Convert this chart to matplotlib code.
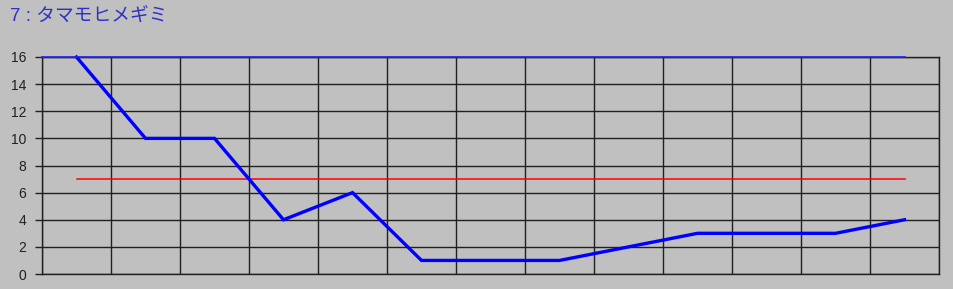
import matplotlib
matplotlib.use("Agg")
import matplotlib.pyplot as plt
import numpy as np

plt.rcParams['font.family'] = ['Liberation Sans', 'Noto Sans CJK JP', 'DejaVu Sans']

# race positions
races = list(range(13))
ranks = [16, 10, 10, 4, 6, 1, 1, 1, 2, 3, 3, 3, 4]
field_size = [16] * 13
ref_level = [7] * 13
title = "7 : タマモヒメギミ"

bg = "#c0c0c0"
fig = plt.figure(figsize=(9.54, 2.89), dpi=100, facecolor=bg)
ax = fig.add_axes([42 / 954, 15 / 289, 897 / 954, 217 / 289], facecolor=bg)

x = np.array(races)
# top blue line runs from the left edge out to the last race
ax.plot(np.r_[-0.5, x], np.r_[field_size[0], field_size], color="#2020ff", lw=1.2, zorder=5,
        clip_on=False)
ax.plot(x, ref_level, color="#ff0000", lw=1.1, zorder=3)
ax.plot(x, ranks, color="#0000ff", lw=2.4, zorder=4, solid_joinstyle="miter", clip_on=False)

ax.set_xlim(-0.5, 12.5)
ax.set_ylim(0, 16)
ax.set_xticks(np.arange(-0.5, 12.6, 1))
ax.set_xticklabels([])
ax.set_yticks(range(0, 17, 2))
ax.grid(True, color="#202020", lw=1.0)
ax.tick_params(axis="x", length=0)
ax.tick_params(axis="y", length=5, width=1.0, color="#202020", labelsize=10,
               labelcolor="#202020", pad=6.5)
for s in ax.spines.values():
    s.set_color("#202020")
    s.set_linewidth(1.0)

fig.text(10 / 954, 1 - 17 / 289, title, color="#3030c8", fontsize=13.5, va="center", ha="left")

fig.savefig("out.png", dpi=100, facecolor=bg)
